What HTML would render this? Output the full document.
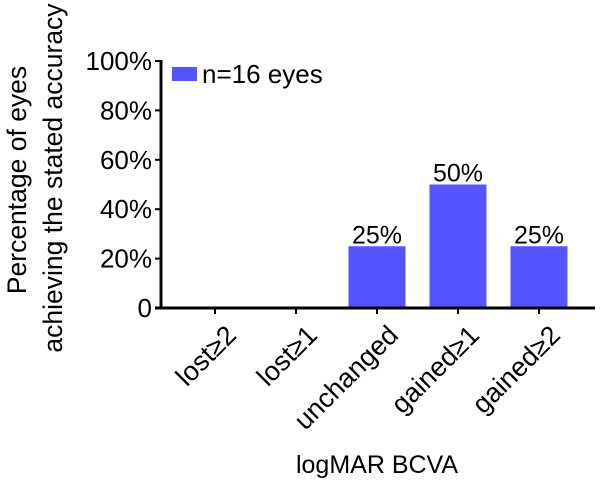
<!DOCTYPE html>
<html><head><meta charset="utf-8"><style>
body{margin:0;background:#fff}
text{font-family:"Liberation Sans",Arial,sans-serif;fill:#000}
</style></head><body>
<svg width="602" height="485" viewBox="0 0 602 485">
<g id="plot"></g>
</svg>
<script>
const categories=["lost≥2","lost≥1","unchanged","gained≥1","gained≥2"];
const values=[0,0,25,50,25];
const valueLabels=["","","25%","50%","25%"];
const yTicks=[0,20,40,60,80,100];
const yTickLabels=["0","20%","40%","60%","80%","100%"];
const NS="http://www.w3.org/2000/svg";
const g=document.getElementById('plot');
const x0=161,x1=595,yBase=308,yTop=61,step=81,first=215,bw=57;
const ys=v=>yBase-(v/100)*(yBase-yTop);
const xs=i=>first+i*step;
function mk(t,a,txt){const e=document.createElementNS(NS,t);for(const k in a)e.setAttribute(k,a[k]);if(txt!==undefined)e.textContent=txt;g.appendChild(e);return e;}
values.forEach((v,i)=>{
 if(v>0){const r=mk('rect',{x:xs(i)-bw/2,y:ys(v),width:bw,height:yBase-ys(v),fill:'#5555ff'});
 
 }
 if(valueLabels[i]){const t=mk('text',{x:xs(i),y:ys(v)-3,'text-anchor':'middle','font-size':25},valueLabels[i]);
 
 }
 const tk=mk('line',{x1:xs(i),x2:xs(i),y1:yBase,y2:yBase+6,stroke:'#000','stroke-width':2});
 
 
 const cx=xs(i)+9,cy=yBase+15;
 const ct=mk('text',{x:cx,y:cy,'text-anchor':'end','font-size':27,transform:`rotate(-45 ${cx} ${cy})`,dy:'0.72em'},categories[i]);
 
 
});
yTicks.forEach((v,i)=>{
 const l=mk('line',{x1:x0-6,x2:x0,y1:ys(v),y2:ys(v),stroke:'#000','stroke-width':2});
 
 
 const t=mk('text',{x:x0-9,y:ys(v)+9,'text-anchor':'end','font-size':26},yTickLabels[i]);
 
 
});
const ya=mk('line',{x1:x0,x2:x0,y1:yTop-1,y2:yBase+1,stroke:'#000','stroke-width':3});


const xa=mk('line',{x1:x0-6,x2:x1,y1:yBase,y2:yBase,stroke:'#000','stroke-width':3});


const lr=mk('rect',{x:172,y:67,width:25,height:14,fill:'#5555ff'});


const lt=mk('text',{x:202,y:83,'font-size':26}, 'n=16 eyes');


const xt=mk('text',{x:377,y:473,'text-anchor':'middle','font-size':25},'logMAR BCVA');


const yt1=mk('text',{x:0,y:0,'text-anchor':'middle','font-size':26.5,transform:'translate(26 180) rotate(-90)'},'Percentage of eyes');


const yt2=mk('text',{x:0,y:0,'text-anchor':'middle','font-size':26.5,transform:'translate(62 178) rotate(-90)'},'achieving the stated accuracy');


</script>
</body></html>
